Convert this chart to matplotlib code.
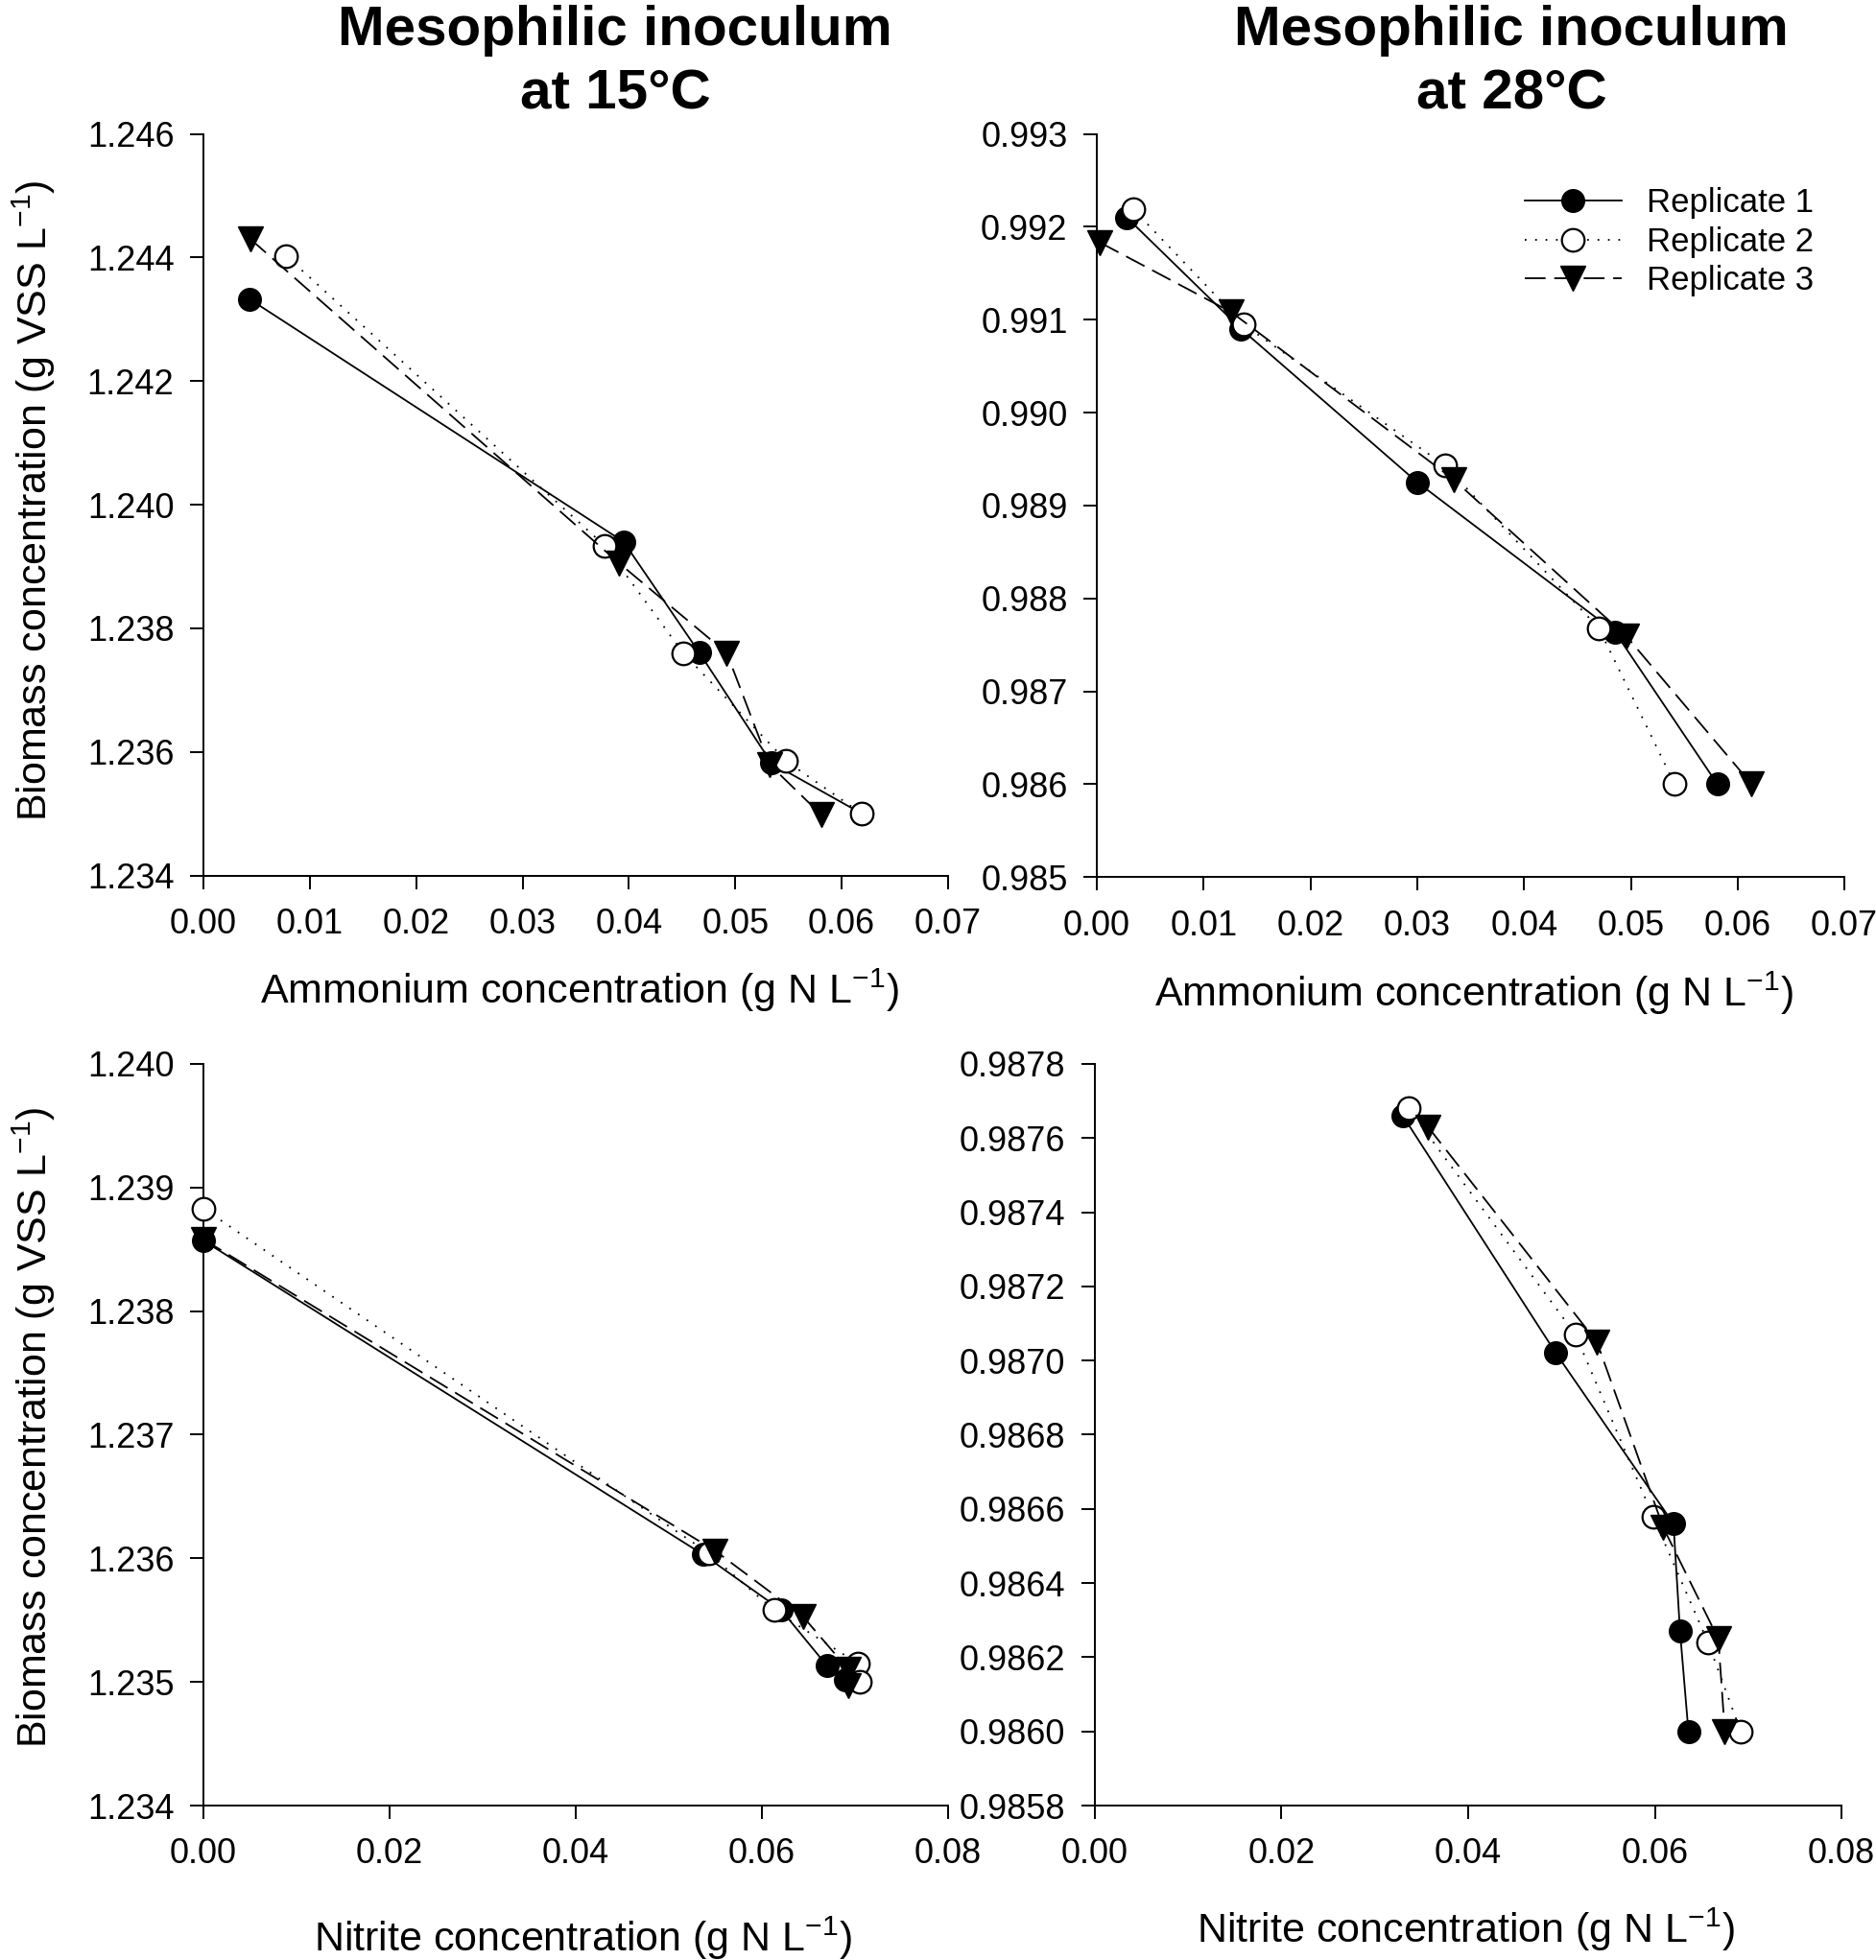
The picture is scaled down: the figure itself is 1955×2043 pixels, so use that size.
import matplotlib
matplotlib.use("Agg")
import matplotlib.pyplot as plt
import numpy as np

plt.rcParams['font.family'] = ['Liberation Sans', 'DejaVu Sans']
plt.rcParams['mathtext.fontset'] = 'custom'
plt.rcParams['mathtext.rm'] = 'Liberation Sans'

# --- data ---
# Mesophilic 15 C, ammonium
amm15_x1 = [0.0043, 0.0395, 0.0466, 0.0534, 0.0619]
amm15_y1 = [1.24333, 1.23940, 1.23761, 1.23582, 1.23500]
amm15_x2 = [0.0078, 0.0377, 0.0451, 0.0548, 0.0619]
amm15_y2 = [1.24402, 1.23934, 1.23760, 1.23585, 1.23500]
amm15_x3 = [0.0044, 0.0391, 0.0492, 0.0532, 0.0581]
amm15_y3 = [1.24430, 1.23905, 1.23760, 1.23580, 1.23498]

# Mesophilic 28 C, ammonium
amm28_x1 = [0.0028, 0.0135, 0.0300, 0.0485, 0.0581]
amm28_y1 = [0.99210, 0.99090, 0.98925, 0.98764, 0.98600]
amm28_x2 = [0.0034, 0.0137, 0.0326, 0.0470, 0.0541]
amm28_y2 = [0.99219, 0.99095, 0.98943, 0.98768, 0.98600]
amm28_x3 = [0.0003, 0.0126, 0.0334, 0.0496, 0.0613]
amm28_y3 = [0.99183, 0.99108, 0.98928, 0.98759, 0.98600]

# Mesophilic 15 C, nitrite
nit15_x1 = [0.0000, 0.0537, 0.0621, 0.0670, 0.0690]
nit15_y1 = [1.23857, 1.23603, 1.23558, 1.23513, 1.23502]
nit15_x2 = [0.0000, 0.0543, 0.0613, 0.0703, 0.0705]
nit15_y2 = [1.23883, 1.23604, 1.23558, 1.23515, 1.23500]
nit15_x3 = [0.0000, 0.0550, 0.0644, 0.0693, 0.0693]
nit15_y3 = [1.23858, 1.23606, 1.23553, 1.23510, 1.23497]

# Mesophilic 28 C, nitrite
nit28_x1 = [0.0330, 0.0494, 0.0620, 0.0627, 0.0636]
nit28_y1 = [0.98766, 0.98702, 0.98656, 0.98627, 0.98600]
nit28_x2 = [0.0336, 0.0515, 0.0598, 0.0657, 0.0692]
nit28_y2 = [0.98768, 0.98707, 0.98658, 0.98624, 0.98600]
nit28_x3 = [0.0357, 0.0538, 0.0609, 0.0668, 0.0675]
nit28_y3 = [0.98763, 0.98705, 0.98655, 0.98625, 0.98600]

labels = ['Replicate 1', 'Replicate 2', 'Replicate 3']
titles = ['Mesophilic inoculum', 'at 15°C', 'at 28°C']

fig = plt.figure(figsize=(19.56, 20.43), dpi=100)

ax_tl = fig.add_axes([0.1084, 0.5533, 0.3967, 0.3784])
ax_tr = fig.add_axes([0.5844, 0.5525, 0.3983, 0.3792])
ax_bl = fig.add_axes([0.1084, 0.0788, 0.3967, 0.3784])
ax_br = fig.add_axes([0.5833, 0.0788, 0.3978, 0.3784])

lw = 1.3
styles = [
    dict(color='black', linestyle='-', linewidth=lw, marker='o', markersize=17,
         markerfacecolor='black', markeredgecolor='black', zorder=3),
    dict(color='black', linestyle=(0, (1, 5)), linewidth=lw, marker='o', markersize=17,
         markerfacecolor='white', markeredgecolor='black', markeredgewidth=1.6, zorder=4),
    dict(color='black', linestyle=(0, (12, 5)), linewidth=lw, marker='v', markersize=18.5,
         markerfacecolor='black', markeredgecolor='black', zorder=5),
]


def draw(ax, series):
    handles = []
    for (x, y), st, lab in zip(series, styles, labels):
        h, = ax.plot(x, y, label=lab, clip_on=False, **st)
        handles.append(h)
    return handles


def style_axis(ax, xlim, xstep, xfmt, ylim, ystep, yfmt):
    ax.set_xlim(*xlim)
    ax.set_ylim(*ylim)
    ax.set_xticks(np.arange(xlim[0], xlim[1] + xstep / 2, xstep))
    ax.set_yticks(np.arange(ylim[0], ylim[1] + ystep / 2, ystep))
    ax.xaxis.set_major_formatter(matplotlib.ticker.FormatStrFormatter(xfmt))
    ax.yaxis.set_major_formatter(matplotlib.ticker.FormatStrFormatter(yfmt))
    for s in ['top', 'right']:
        ax.spines[s].set_visible(False)
    for s in ['left', 'bottom']:
        ax.spines[s].set_linewidth(1.4)
    ax.tick_params(axis='both', direction='out', length=10, width=1.4, labelsize=26)
    ax.tick_params(axis='x', pad=14)
    ax.tick_params(axis='y', pad=12)


draw(ax_tl, [(amm15_x1, amm15_y1), (amm15_x2, amm15_y2), (amm15_x3, amm15_y3)])
h = draw(ax_tr, [(amm28_x1, amm28_y1), (amm28_x2, amm28_y2), (amm28_x3, amm28_y3)])
draw(ax_bl, [(nit15_x1, nit15_y1), (nit15_x2, nit15_y2), (nit15_x3, nit15_y3)])
draw(ax_br, [(nit28_x1, nit28_y1), (nit28_x2, nit28_y2), (nit28_x3, nit28_y3)])

style_axis(ax_tl, (0, 0.07), 0.01, '%.2f', (1.234, 1.246), 0.002, '%.3f')
style_axis(ax_tr, (0, 0.07), 0.01, '%.2f', (0.985, 0.993), 0.001, '%.3f')
style_axis(ax_bl, (0, 0.08), 0.02, '%.2f', (1.234, 1.240), 0.001, '%.3f')
style_axis(ax_br, (0, 0.08), 0.02, '%.2f', (0.9858, 0.9878), 0.0002, '%.4f')

ylab = r'Biomass concentration (g VSS L$^{\mathregular{-1}}$)'
for ax, yc in [(ax_tl, 0.505), (ax_bl, 0.51)]:
    ax.set_ylabel(ylab, fontsize=31, va='center', ha='center')
    ax.yaxis.set_label_coords(-0.228, yc)

xl_amm = r'Ammonium concentration (g N L$^{\mathregular{-1}}$)'
xl_nit = r'Nitrite concentration (g N L$^{\mathregular{-1}}$)'
for ax, txt, xc, yc in [(ax_tl, xl_amm, 0.505, -0.172), (ax_tr, xl_amm, 0.505, -0.174),
                        (ax_bl, xl_nit, 0.51, -0.197), (ax_br, xl_nit, 0.497, -0.185)]:
    ax.set_xlabel(txt, fontsize=31, va='baseline', ha='center')
    ax.xaxis.set_label_coords(xc, yc)

# titles
for xc, second in [(0.3277, titles[1]), (0.8052, titles[2])]:
    fig.text(xc, 1 - 47 / 2043, titles[0], fontsize=42, fontweight='bold',
             ha='center', va='baseline')
    fig.text(xc, 1 - 114 / 2043, second, fontsize=42, fontweight='bold',
             ha='center', va='baseline')

leg = ax_tr.legend(handles=h, loc='upper left', bbox_to_anchor=(0.5725, 0.928),
                   frameon=False, fontsize=25, numpoints=1, handlelength=2.9,
                   handletextpad=0.75, labelspacing=0.215, borderpad=0, borderaxespad=0)

fig.savefig('out.png', dpi=100, facecolor='white')
